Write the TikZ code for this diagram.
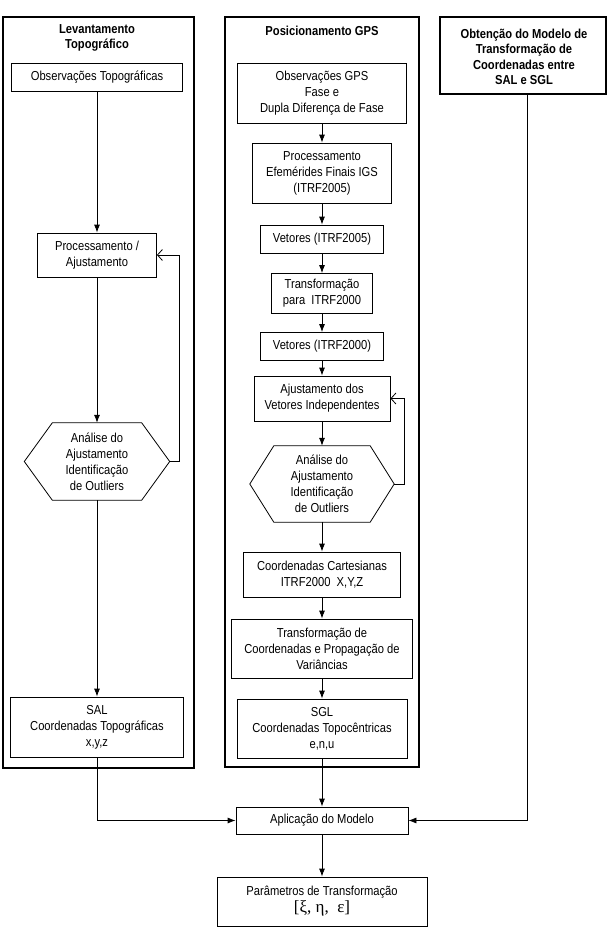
\documentclass[tikz,border=0pt]{standalone}
\usepackage{fontspec}
\setmainfont{Liberation Sans}[FakeStretch=0.86]
\newfontfamily\serifa{Liberation Serif}
\usetikzlibrary{arrows.meta}

\begin{document}
\begin{tikzpicture}[x=1pt, y=-1pt,
    every node/.style={font=\fontsize{13}{16}\selectfont, align=center, inner sep=0pt},
    tam/.style 2 args={minimum width=#1pt, minimum height=#2pt},
    caixa/.style={draw, line width=0.8pt},
    bloco/.style={draw, line width=2.2pt},
    titulo/.style={font=\bfseries\fontsize{13}{15.5}\selectfont},
    seta/.style={line width=0.8pt, -{Latex[length=8pt, width=6pt]}},
    volta/.style={line width=0.8pt, -{Straight Barb[length=5pt, width=11pt]}}]
    \useasboundingbox (0,0) rectangle (607,927);
    % blocos externos
    \node[bloco, tam={191}{751}] (lbloco) at (98.5,392.5) {};
    \node[bloco, tam={194}{750}] (gbloco) at (322,392) {};
    \node[bloco, tam={166}{77}] (rbloco) at (523,55.5) {};
    \node[titulo] (ltit) at (97,38) {Levantamento\\Topográfico};
    \node[titulo] (gtit) at (322,31) {Posicionamento GPS};
    \node[titulo] (rtit) at (524,57) {Obtenção do Modelo de\\Transformação de\\Coordenadas entre\\SAL e SGL};
    % levantamento topográfico
    \node[caixa, tam={171}{28}] (lobs) at (97,77) {Observações Topográficas};
    \node[caixa, tam={119}{44}] (lproc) at (97,255) {Processamento /\\Ajustamento};
    \node[tam={145}{77}] (lhex) at (97,461.5) {Análise do\\Ajustamento\\Identificação\\de Outliers};
    \node[caixa, tam={173}{60}] (lsal) at (97,727) {SAL\\Coordenadas Topográficas\\x,y,z};
    % posicionamento GPS
    \node[caixa, tam={169}{60}] (gobs) at (322,93) {Observações GPS\\Fase e\\Dupla Diferença de Fase};
    \node[caixa, tam={139}{60}] (gproc) at (322,173) {Processamento\\Efemérides Finais IGS\\(ITRF2005)};
    \node[caixa, tam={123}{28}] (gvet1) at (322,239) {Vetores (ITRF2005)};
    \node[caixa, tam={101}{40}] (gtrans) at (322,293.5) {Transformação\\para~~ITRF2000};
    \node[caixa, tam={123}{28}] (gvet2) at (322,346.5) {Vetores (ITRF2000)};
    \node[caixa, tam={136}{45}] (gajust) at (322,398.5) {Ajustamento dos\\Vetores Independentes};
    \node[tam={144}{76}] (ghex) at (322,484) {Análise do\\Ajustamento\\Identificação\\de Outliers};
    \node[caixa, tam={157}{45}] (gcart) at (322,574.5) {Coordenadas Cartesianas\\ITRF2000~~X,Y,Z};
    \node[caixa, tam={181}{59}] (gtransf) at (322,648.5) {Transformação de\\Coordenadas e Propagação de\\Variâncias};
    \node[caixa, tam={170}{59}] (gsgl) at (322,728.5) {SGL\\Coordenadas Topocêntricas\\e,n,u};
    % modelo
    \node[caixa, tam={172}{27}] (aplic) at (322,820.5) {Aplicação do Modelo};
    \node[caixa, tam={210}{49}] (param) at (322,901.5) {Parâmetros de Transformação\\[1pt]{\serifa\fontsize{17}{18}\selectfont[ξ, η,~ ε]}};
    % hexágonos
    \draw[line width=0.8pt] ([xshift=28pt]lhex.north west) -- ([xshift=-28pt]lhex.north east) -- (lhex.east)
        -- ([xshift=-28pt]lhex.south east) -- ([xshift=28pt]lhex.south west) -- (lhex.west) -- cycle;
    \draw[line width=0.8pt] ([xshift=24pt]ghex.north west) -- ([xshift=-24pt]ghex.north east) -- (ghex.east)
        -- ([xshift=-24pt]ghex.south east) -- ([xshift=24pt]ghex.south west) -- (ghex.west) -- cycle;
    % ligações
    \draw[seta] (lobs) -- (lproc);
    \draw[seta] (lproc) -- (lhex);
    \draw[seta] (lhex) -- (lsal);
    \draw[volta] (lhex.east) -- ++(10,0) |- (lproc.east);
    \draw[seta] (gobs) -- (gproc);
    \draw[seta] (gproc) -- (gvet1);
    \draw[seta] (gvet1) -- (gtrans);
    \draw[seta] (gtrans) -- (gvet2);
    \draw[seta] (gvet2) -- (gajust);
    \draw[seta] (gajust) -- (ghex);
    \draw[seta] (ghex) -- (gcart);
    \draw[seta] (gcart) -- (gtransf);
    \draw[seta] (gtransf) -- (gsgl);
    \draw[volta] (ghex.east) -- ++(10,0) |- (gajust.east);
    \draw[seta] (lsal.south) |- (aplic.west);
    \draw[seta] (gsgl) -- (aplic);
    \draw[seta] ([xshift=4pt]rbloco.south) |- (aplic.east);
    \draw[seta] (aplic) -- (param);
\end{tikzpicture}
\end{document}
